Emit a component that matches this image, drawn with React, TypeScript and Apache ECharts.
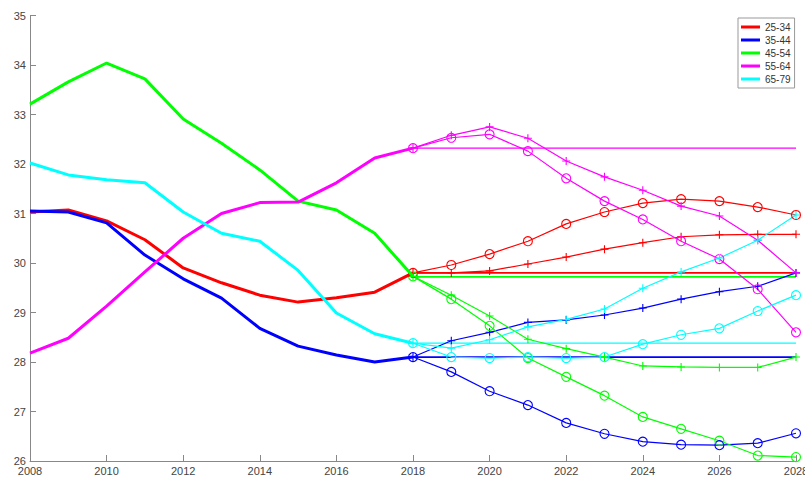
import React, { useEffect, useRef } from "react";
import * as echarts from "echarts";

const histYears = [2008, 2009, 2010, 2011, 2012, 2013, 2014, 2015, 2016, 2017, 2018];
const projYears = [2018, 2019, 2020, 2021, 2022, 2023, 2024, 2025, 2026, 2027, 2028];

const groups = ["25-34", "35-44", "45-54", "55-64", "65-79"];
const colors = ["#ff0000", "#0000ff", "#00ff00", "#ff00ff", "#00ffff"];

// Historical series 2008-2018
const hist2534 = [31.03, 31.07, 30.85, 30.47, 29.9, 29.6, 29.35, 29.21, 29.3, 29.41, 29.8];
const hist3544 = [31.05, 31.03, 30.81, 30.16, 29.68, 29.29, 28.68, 28.32, 28.14, 28.0, 28.1];
const hist4554 = [33.21, 33.66, 34.04, 33.72, 32.91, 32.42, 31.88, 31.25, 31.07, 30.6, 29.73];
const hist5564 = [28.18, 28.48, 29.13, 29.82, 30.5, 31.0, 31.22, 31.23, 31.62, 32.12, 32.32];
const hist6579 = [32.02, 31.78, 31.68, 31.62, 31.03, 30.6, 30.44, 29.85, 28.99, 28.57, 28.38];

// Projection with circle markers 2018-2028
const circ2534 = [29.8, 29.96, 30.18, 30.44, 30.79, 31.03, 31.21, 31.29, 31.25, 31.13, 30.97];
const circ3544 = [28.1, 27.8, 27.41, 27.13, 26.77, 26.55, 26.39, 26.33, 26.32, 26.36, 26.56];
const circ4554 = [29.73, 29.27, 28.73, 28.08, 27.7, 27.32, 26.89, 26.65, 26.41, 26.11, 26.08];
const circ5564 = [32.32, 32.53, 32.6, 32.26, 31.71, 31.25, 30.88, 30.44, 30.08, 29.47, 28.6];
const circ6579 = [28.38, 28.1, 28.08, 28.1, 28.08, 28.1, 28.36, 28.55, 28.68, 29.03, 29.35];

// Projection with plus markers 2018-2028
const plus2534 = [29.8, 29.8, 29.84, 29.98, 30.12, 30.28, 30.41, 30.53, 30.57, 30.58, 30.58];
const plus3544 = [28.1, 28.43, 28.6, 28.8, 28.85, 28.95, 29.09, 29.27, 29.42, 29.53, 29.8];
const plus4554 = [29.73, 29.35, 28.93, 28.46, 28.27, 28.1, 27.92, 27.9, 27.89, 27.89, 28.1];
const plus5564 = [32.32, 32.58, 32.75, 32.52, 32.06, 31.74, 31.47, 31.15, 30.95, 30.46, 29.8];
const plus6579 = [28.38, 28.28, 28.45, 28.71, 28.86, 29.07, 29.49, 29.82, 30.1, 30.46, 30.97];

// Constant projection levels
const flatLevels = [29.8, 28.1, 29.72, 32.32, 28.38];

const histAll = [hist2534, hist3544, hist4554, hist5564, hist6579];
const circAll = [circ2534, circ3544, circ4554, circ5564, circ6579];
const plusAll = [plus2534, plus3544, plus4554, plus5564, plus6579];

const PLUS = "path://M0,5L10,5M5,0L5,10";

export default function App() {
  const ref = useRef<HTMLDivElement>(null);
  useEffect(() => {
    if (!ref.current) return;
    const chart = echarts.init(ref.current, undefined, { renderer: "svg" });
    const series: any[] = [];
    groups.forEach((g, i) => {
      const c = colors[i];
      series.push({
        type: "line",
        name: g + " flat",
        data: projYears.map((y) => [y, flatLevels[i]]),
        symbol: "none",
        lineStyle: { color: c, width: i === 3 || i === 4 ? 1.3 : 1.8 },
        itemStyle: { color: c },
        z: 2,
      });
      series.push({
        type: "line",
        name: g + " circ",
        data: projYears.map((y, k) => [y, circAll[i][k]]),
        symbol: "circle",
        symbolSize: 9,
        showAllSymbol: true,
        lineStyle: { color: c, width: 1.2 },
        itemStyle: { color: "transparent", borderColor: c, borderWidth: 1.1 },
        z: 3,
      });
      series.push({
        type: "line",
        name: g + " plus",
        data: projYears.map((y, k) => [y, plusAll[i][k]]),
        symbol: PLUS,
        symbolSize: 8,
        showAllSymbol: true,
        lineStyle: { color: c, width: 1.2 },
        itemStyle: { color: "transparent", borderColor: c, borderWidth: 1.1 },
        z: 3,
      });
    });
    groups.forEach((g, i) => {
      series.push({
        type: "line",
        name: g,
        data: histYears.map((y, k) => [y, histAll[i][k]]),
        symbol: "none",
        lineStyle: { color: colors[i], width: 3 },
        itemStyle: { color: colors[i] },
        z: 4,
      });
    });

    chart.setOption({
      animation: false,
      backgroundColor: "#ffffff",
      grid: { left: 30, right: 9, top: 15.5, bottom: 18, containLabel: false, outerBoundsMode: "none" },
      legend: {
        data: groups,
        orient: "vertical",
        left: 738,
        top: 18,
        padding: [4, 4, 4, 3],
        itemGap: 3,
        itemWidth: 19,
        itemHeight: 3,
        icon: "rect",
        borderColor: "#999999",
        borderWidth: 1,
        backgroundColor: "#ffffff",
        textStyle: { fontSize: 10, color: "#333333", fontFamily: "Liberation Sans", lineHeight: 10, height: 10 },
      },
      xAxis: {
        type: "value",
        min: 2008,
        max: 2028,
        interval: 2,
        splitLine: { show: false },
        axisLine: { show: true, lineStyle: { color: "#888888", width: 1 } },
        axisTick: { show: true, inside: true, length: 6, lineStyle: { color: "#888888" } },
        axisLabel: {
          formatter: (v: number) => String(v),
          color: "#444444",
          fontSize: 11,
          fontFamily: "Liberation Sans",
          margin: 4,
        },
      },
      yAxis: {
        type: "value",
        min: 26,
        max: 35,
        interval: 1,
        splitLine: { show: false },
        axisLine: { show: true, lineStyle: { color: "#888888", width: 1 } },
        axisTick: { show: true, inside: true, length: 6, lineStyle: { color: "#888888" } },
        axisLabel: {
          color: "#444444",
          fontSize: 11,
          fontFamily: "Liberation Sans",
          margin: 4,
        },
      },
      series,
    });
    return () => chart.dispose();
  }, []);
  return (
    <div
      ref={ref}
      style={{ position: "fixed", left: 0, top: 0, width: 805, height: 479 }}
    />
  );
}
